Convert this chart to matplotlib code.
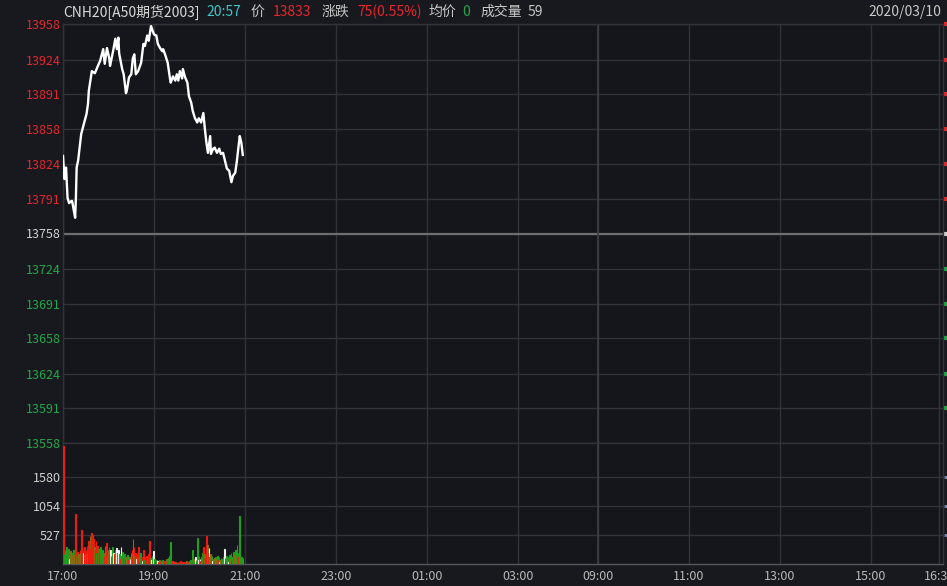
import numpy as np
import matplotlib
matplotlib.use("Agg")
import matplotlib.pyplot as plt

plt.rcParams['font.family'] = ['Noto Sans CJK SC', 'DejaVu Sans']

# ---- datos ----
prev_close = 13758
price_ticks = [13558, 13591, 13624, 13658, 13691, 13724, 13758, 13791, 13824, 13858, 13891, 13924, 13958]
vol_ticks = [527, 1054, 1580]
time_labels = ['17:00', '19:00', '21:00', '23:00', '01:00', '03:00', '09:00', '11:00', '13:00', '15:00', '16:30']
time_minutes = [0, 120, 240, 360, 480, 600, 705, 825, 945, 1065, 1155]
session_end = 1160

# minutos desde las 17:00 y precio
price_min = [0, 2, 4, 6, 8, 11, 12, 15, 16, 17, 18, 20, 24, 28, 31, 33,
             34, 38, 42, 46, 49, 53, 55, 58, 61, 62, 66, 69, 71, 73, 74, 78, 80, 83, 84, 87,
             90, 92, 94, 96, 99, 103, 106, 108, 111, 113, 116, 117, 120, 123, 125, 128, 131,
             132, 135, 138, 141, 142, 145, 148, 150, 152, 154, 157, 158, 161, 164, 166, 169,
             171, 174, 177, 179, 182, 185, 187, 189, 191, 194, 195, 198, 200, 203, 206, 208,
             211, 214, 216, 219, 222, 224, 227, 229, 232, 233, 235, 237]
price_val = [13832, 13810, 13821, 13792, 13787, 13789, 13789, 13777, 13773, 13792, 13821, 13828, 13853,
             13864, 13872, 13882,
             13894, 13913, 13911, 13918, 13923, 13934, 13920, 13935, 13925, 13918, 13932, 13944,
             13934, 13945, 13930, 13915, 13910, 13892, 13894, 13907,
             13910, 13925, 13929, 13910, 13913, 13921, 13939, 13937, 13947, 13942, 13956, 13954,
             13948, 13947, 13939, 13935, 13932,
             13934, 13928, 13921, 13906, 13902, 13908, 13904, 13910, 13904, 13913, 13906, 13915,
             13907, 13902, 13889, 13883,
             13875, 13868, 13864, 13868, 13864, 13873, 13858, 13845, 13835, 13851, 13834, 13839,
             13840, 13835, 13839, 13834,
             13835, 13826, 13820, 13818, 13807, 13813, 13816, 13826, 13845, 13851, 13845, 13833]

# volumen por minuto (17:00 - 20:57) y color de cada barra
volume = [2150, 180, 260, 120, 300, 210, 150, 280, 90, 230,
          140, 200, 170, 250, 120, 160, 910, 150, 90, 220,
          180, 130, 260, 200, 620, 240, 150, 200, 310, 170,
          260, 330, 180, 420, 350, 500, 280, 560, 530, 380,
          460, 300, 250, 420, 200, 330, 280, 150, 230, 300,
          180, 120, 260, 200, 150, 330, 210, 380, 120, 250,
          300, 180, 250, 140, 280, 300, 200, 180, 260, 150,
          290, 200, 120, 260, 180, 90, 300, 150, 210, 100,
          140, 190, 80, 120, 100, 160, 70, 130, 90, 200,
          160, 250, 460, 300, 140, 200, 90, 180, 120, 300,
          150, 90, 200, 120, 60, 170, 260, 80, 120, 60,
          140, 90, 180, 60, 420, 100, 70, 150, 60, 230,
          90, 50, 40, 80, 60, 30, 40, 70, 30, 50,
          40, 80, 30, 50, 60, 40, 90, 30, 60, 110,
          150, 400, 80, 40, 60, 30, 50, 30, 40, 20,
          30, 40, 20, 30, 50, 20, 30, 40, 20, 30,
          40, 20, 60, 30, 20, 40, 50, 30, 80, 60,
          250, 60, 90, 40, 120, 70, 60, 470, 80, 150,
          90, 60, 120, 200, 150, 300, 180, 100, 420, 500,
          350, 200, 290, 120, 180, 80, 140, 60, 90, 110,
          60, 130, 90, 150, 70, 120, 40, 80, 100, 60,
          90, 130, 280, 100, 60, 150, 80, 120, 40, 170,
          90, 200, 60, 130, 220, 100, 160, 260, 150, 350,
          200, 120, 870, 160, 90, 120, 60, 110]
vol_color = ("rggoggogwo" "rgogrorowr" "ogrorrowro" "rrorrorrro" "rorrgrogrg"
             "orgorgorgo" "grwgogwrgo" "wgowgrwogr" "wgrowgrowg" "orororwror"
             "orgrworgro" "rorgrowgrw" "grogwrgorg" "rgorgrorgg" "ogrorgrror"
             "rrorrgrror" "rrorgrorgo" "grogwgrgwo" "wrogororor" "orwgorgwgo"
             "rgogrgwogr" "gowgrgogwg" "ogrgggoggo" "grggoggg")

# ---- colores ----
bg = '#15161b'
grid_c = '#313339'
red = '#e5262f'
green = '#23a74a'
bar_colors = {'r': '#ef1b10', 'g': '#1d9e1d', 'o': '#8c6a0e', 'w': '#f2f2f2'}

W, H = 947, 586
fig = plt.figure(figsize=(W / 100, H / 100), dpi=100, facecolor='#18191e')


def box(x0, y0, x1, y1):
    return [x0 / W, 1 - y1 / H, (x1 - x0) / W, (y1 - y0) / H]


ax = fig.add_axes(box(63, 24, 943, 443))
axv = fig.add_axes(box(63, 443, 943, 564))

for a in (ax, axv):
    a.set_facecolor(bg)
    a.set_xlim(0, session_end)
    a.set_xticks(time_minutes)
    for s in a.spines.values():
        s.set_color(grid_c)
        s.set_linewidth(1)
    a.grid(True, color=grid_c, linewidth=1)
    a.tick_params(length=0)
    a.set_axisbelow(True)

# panel de precio
ax.set_ylim(13558, 13958)
ax.set_yticks(price_ticks)
ax.set_yticklabels([str(p) for p in price_ticks], fontsize=9)
for lbl, p in zip(ax.get_yticklabels(), price_ticks):
    if p > prev_close:
        lbl.set_color(red)
    elif p < prev_close:
        lbl.set_color(green)
    else:
        lbl.set_color('#d0d0d0')
ax.tick_params(axis='y', pad=1.5)
ax.tick_params(axis='x', labelbottom=False)
ax.axhline(prev_close, color='#6e6e6e', linewidth=1.6, zorder=1)
ax.axvline(705, color='#3c3e45', linewidth=1.2, zorder=1)
ax.plot(price_min, price_val, color='white', linewidth=1.7, zorder=3)

# marcas de color del eje derecho (las etiquetas quedan fuera del cuadro)
for p in price_ticks[1:]:
    c = red if p > prev_close else (green if p < prev_close else '#d0d0d0')
    ax.plot([1.0015, 1.006], [(p - 13558) / 400] * 2, transform=ax.transAxes,
            color=c, linewidth=3, clip_on=False, solid_capstyle='butt')
for v in vol_ticks:
    axv.plot([1.0015, 1.006], [v / 2199] * 2, transform=axv.transAxes,
             color='#7f8aa6', linewidth=2, clip_on=False, solid_capstyle='butt')

# panel de volumen
vx = np.arange(len(volume))
cols = [bar_colors[c] for c in vol_color]
axv.bar(vx, volume, width=0.9, align='edge', color=cols, edgecolor=cols,
        linewidth=0.8, zorder=3)
axv.set_ylim(0, 2199)
axv.set_yticks(vol_ticks)
axv.set_yticklabels([str(v) for v in vol_ticks], fontsize=9, color='#d0d0d0')
axv.tick_params(axis='y', pad=1.5)
axv.axvline(705, color='#3c3e45', linewidth=1.2, zorder=1)
axv.spines['bottom'].set_color('#55575e')
axv.set_xticklabels(time_labels, fontsize=9, color='#b8b8b8')
axv.tick_params(axis='x', pad=4)

# barra de titulo
title_parts = [('CNH20[A50期货2003]', 63, '#d8d8d8'), ('20:57', 206, '#3ec6c6'),
               ('价', 250, '#c8c8c8'), ('13833', 273, red), ('涨跌', 322, '#c8c8c8'),
               ('75(0.55%)', 357, red), ('均价', 428, '#c8c8c8'), ('0', 462, green),
               ('成交量', 480, '#c8c8c8'), ('59', 528, '#c8c8c8')]
for txt, x, c in title_parts:
    fig.text(x / W, 1 - 12 / H, txt, color=c, fontsize=10, ha='left', va='center')
fig.text(941 / W, 1 - 12 / H, '2020/03/10', color='#c8c8c8', fontsize=10, ha='right', va='center')

fig.savefig('out.png', dpi=100, facecolor=fig.get_facecolor())
